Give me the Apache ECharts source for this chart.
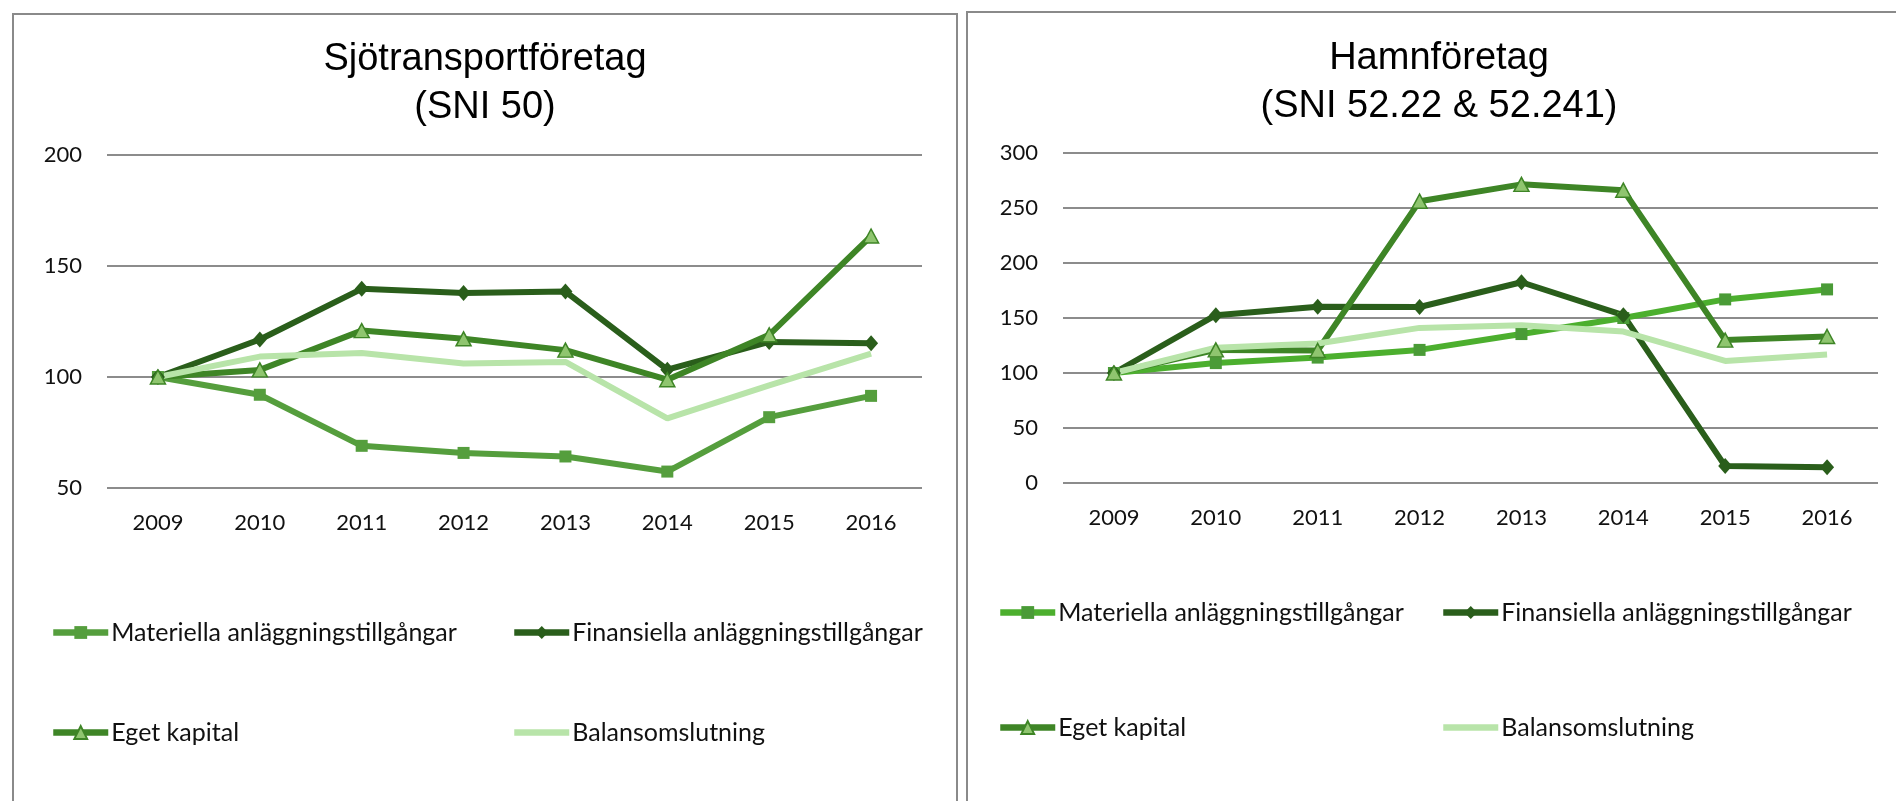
<!DOCTYPE html>
<html>
<head>
<meta charset="utf-8">
<script src="https://cdn.jsdelivr.net/npm/echarts@6/dist/echarts.min.js"></script>
<style>
  html, body { margin: 0; padding: 0; width: 1896px; height: 801px; overflow: hidden; background: #fff; }
  .panel { position: absolute; border: 2px solid #8a8a8a; box-sizing: border-box; background: #fff; }
  #p1 { left: 12px; top: 13px; width: 946px; height: 820px; }
  #p2 { left: 966px; top: 11px; width: 946px; height: 820px; }
  .chart { width: 100%; height: 100%; }
</style>
</head>
<body>
<div class="panel" id="p1"><div class="chart" id="c1"></div></div>
<div class="panel" id="p2"><div class="chart" id="c2"></div></div>
<script>
// ---- data ----
const years = ['2009', '2010', '2011', '2012', '2013', '2014', '2015', '2016'];
const seriesNames = ['Materiella anläggningstillgångar', 'Finansiella anläggningstillgångar', 'Eget kapital', 'Balansomslutning'];

const sjoTitle = 'Sjötransportföretag\n(SNI 50)';
const sjoMateriella   = [100, 92.0, 69.0, 65.8, 64.2, 57.4, 81.9, 91.5];
const sjoFinansiella  = [100, 116.9, 139.7, 137.8, 138.5, 103.3, 115.8, 115.2];
const sjoEget         = [100, 103.2, 120.9, 117.2, 112.1, 98.8, 119.0, 163.5];
const sjoBalans       = [100, 109.2, 110.8, 106.1, 106.8, 81.4, 96.2, 110.5];
const sjoTicks = { min: 50, max: 200, interval: 50 };

const hamnTitle = 'Hamnföretag\n(SNI 52.22 & 52.241)';
const hamnMateriella  = [100, 109.0, 114.0, 121.0, 135.4, 150.0, 166.9, 176.0];
const hamnFinansiella = [100, 152.6, 160.3, 160.0, 182.5, 152.6, 15.4, 14.4];
const hamnEget        = [100, 121.0, 120.5, 256.2, 271.5, 266.2, 129.9, 133.2];
const hamnBalans      = [100, 123.0, 126.8, 141.0, 143.5, 137.7, 111.0, 116.9];
const hamnTicks = { min: 0, max: 300, interval: 50 };

// ---- styles ----
const labelFont = 'Lato, "Open Sans", sans-serif';
const titleFont = '"Liberation Sans", Arial, sans-serif';
const darkGreen = '#2a5e1b';
const egetGreen = '#3e8526';
const triFill = '#8fc56f';
const lightGreen = '#b8e4a9';

function buildOption(title, ticks, data, matColor, matMarker, layout) {
  const [mat, fin, eget, bal] = data;
  const lineW = 6;
  const series = [
    { name: seriesNames[0], type: 'line', data: mat, symbol: 'rect', symbolSize: 12,
      lineStyle: { color: matColor, width: lineW }, itemStyle: { color: matMarker, borderWidth: 0 } },
    { name: seriesNames[1], type: 'line', data: fin, symbol: 'diamond', symbolSize: [14, 16],
      lineStyle: { color: darkGreen, width: lineW }, itemStyle: { color: darkGreen, borderWidth: 0 } },
    { name: seriesNames[2], type: 'line', data: eget, symbol: 'triangle', symbolSize: [15, 14],
      lineStyle: { color: egetGreen, width: lineW }, itemStyle: { color: triFill, borderColor: egetGreen, borderWidth: 1.5 } },
    { name: seriesNames[3], type: 'line', data: bal, symbol: 'none',
      lineStyle: { color: lightGreen, width: lineW }, itemStyle: { color: lightGreen } }
  ].map(s => Object.assign(s, { showSymbol: s.symbol !== 'none', animation: false, z: 2 }));

  const legends = seriesNames.map((n, i) => ({
    data: [n], left: layout.legend[i][0], top: layout.legend[i][1], padding: 0,
    itemWidth: 55, itemHeight: 16, itemGap: 0,
    lineStyle: { width: 6.5 },
    itemStyle: i === 3 ? { opacity: 0 } : {},
    textStyle: { fontFamily: labelFont, fontSize: 25, color: '#111', padding: [0, 0, 0, -2] },
    selectedMode: false
  }));

  return {
    animation: false,
    title: {
      text: title, left: 'center', top: layout.titleTop,
      textStyle: { fontFamily: titleFont, fontSize: 38, fontWeight: 'normal', color: '#000', lineHeight: 48 }
    },
    legend: legends,
    grid: { left: layout.grid[0], top: layout.grid[1], width: 815, height: layout.grid[2] },
    xAxis: {
      type: 'category', data: years, boundaryGap: true,
      axisLine: { show: false }, axisTick: { show: false },
      axisLabel: { fontFamily: labelFont, fontSize: 22, color: '#111', margin: 24 }
    },
    yAxis: {
      type: 'value', min: ticks.min, max: ticks.max, interval: ticks.interval,
      axisLine: { show: false }, axisTick: { show: false },
      splitLine: { lineStyle: { color: '#8c8c8c', width: 2 } },
      axisLabel: { fontFamily: labelFont, fontSize: 22, color: '#111', margin: 25 }
    },
    series
  };
}

const layout1 = { legend: [[36, 605], [497, 605], [36, 705], [497, 705]], titleTop: 16, grid: [93, 140, 333] };
const layout2 = { legend: [[29, 587], [472, 587], [29, 702], [472, 702]], titleTop: 17, grid: [95, 140, 330] };

const c1 = echarts.init(document.getElementById('c1'), null, { renderer: 'canvas' });
c1.setOption(buildOption(sjoTitle, sjoTicks, [sjoMateriella, sjoFinansiella, sjoEget, sjoBalans], '#559e3d', '#559e3d', layout1));
const c2 = echarts.init(document.getElementById('c2'), null, { renderer: 'canvas' });
c2.setOption(buildOption(hamnTitle, hamnTicks, [hamnMateriella, hamnFinansiella, hamnEget, hamnBalans], '#4caf2e', '#4a9b37', layout2));
</script>
</body>
</html>
